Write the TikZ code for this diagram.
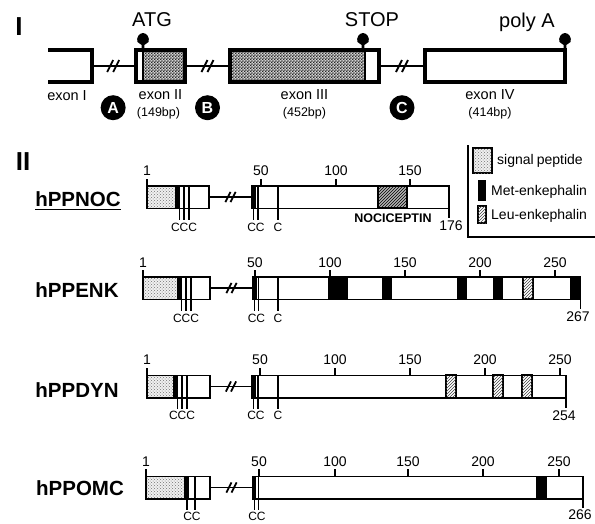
\documentclass[tikz,border=0pt]{standalone}
\usepackage{fontspec}
\setmainfont{Liberation Sans}
\usetikzlibrary{patterns,positioning}
\pgfdeclarepatternformonly{finecheck}{\pgfpointorigin}{\pgfqpoint{2.8pt}{2.8pt}}{\pgfqpoint{2.8pt}{2.8pt}}{%
  \pgfpathrectangle{\pgfpointorigin}{\pgfqpoint{1.45pt}{1.45pt}}%
  \pgfpathrectangle{\pgfqpoint{1.4pt}{1.4pt}}{\pgfqpoint{1.45pt}{1.45pt}}%
  \pgfusepath{fill}}

\begin{document}
\begin{tikzpicture}[x=1pt,y=-1pt,
  every node/.style={inner sep=0pt,font=\fontsize{13}{15}\selectfont},
  exonbox/.style={draw,line width=3.4pt,minimum height=32pt},
  exonline/.style={line width=3.4pt},
  intron/.style={line width=2.2pt},
  ppbox/.style={draw,line width=1.5pt,minimum height=22.5pt},
  ppline/.style={line width=1.5pt},
  cysline/.style={line width=1.1pt},
  checker/.style={fill=gray!35,postaction={pattern=finecheck,pattern color=black!85}},
  sigpep/.style={fill=gray!12,postaction={pattern=crosshatch dots,pattern color=black!55}},
  metenk/.style={fill=black},
  leuenk/.style={fill=white,postaction={pattern=north east lines,pattern color=black!75}},
  nocic/.style={fill=gray!60,postaction={pattern=north east lines,pattern color=black}},
  marker/.style={circle,fill=black,text=white,minimum size=25pt,font=\bfseries\fontsize{16}{16}\selectfont},
  partlbl/.style={font=\bfseries\fontsize{26}{26}\selectfont},
  sitelbl/.style={font=\fontsize{20}{20}\selectfont},
  exonlbl/.style={font=\fontsize{14.5}{16}\selectfont},
  bplbl/.style={font=\fontsize{12.5}{14}\selectfont},
  rowlbl/.style={font=\bfseries\fontsize{20.5}{22}\selectfont},
  numlbl/.style={font=\fontsize{14}{16}\selectfont},
  cyslbl/.style={font=\fontsize{12}{14}\selectfont},
  keylbl/.style={anchor=west,font=\fontsize{14}{16}\selectfont},
  sitepin/.pic={\fill (-1.3,0) -- (-1.3,-5) -- (-5.5,-8) .. controls (-7,-12) and (-4,-17) .. (0,-17)
      .. controls (4,-17) and (7,-12) .. (5.5,-8) -- (1.3,-5) -- (1.3,0) -- cycle;},
  brk/.pic={\draw[line width=1.8pt,pic actions] (-6,6) -- (0,-6) (0,6) -- (6,-6);}
]
\useasboundingbox (0,0) rectangle (595,523);

% part I: gene
\node[partlbl] (pI) at (19,27) {I};
\draw[exonline] (48,50) -- (92,50) -- (92,82) -- (48,82);
\coordinate (ex1) at (92,66);
\fill[checker] (143,50) rectangle (185,82);
\draw[line width=1.4pt] (143,50) -- (143,82);
\node[exonbox,minimum width=49pt] (ex2) at (160.5,66) {};
\fill[checker] (230,50) rectangle (365,82);
\draw[line width=1.4pt] (365,50) -- (365,82);
\node[exonbox,minimum width=149pt] (ex3) at (304.5,66) {};
\node[exonbox,minimum width=140pt] (ex4) at (495,66) {};
\draw[intron] (ex1) -- coordinate[midway] (brkA) (ex2.west);
\draw[intron] (ex2.east) -- coordinate[midway] (brkB) (ex3.west);
\draw[intron] (ex3.east) -- coordinate[midway] (brkC) (ex4.west);
\foreach \b in {brkA,brkB,brkC} \pic at (\b) {brk};
\pic at (143,50) {sitepin};
\pic at (363,50) {sitepin};
\pic at (565,50) {sitepin};
\node[sitelbl] (atg) at (152,20) {ATG};
\node[sitelbl] (stop) at (372,20) {STOP};
\node[sitelbl] (polya) at (527,22) {poly A};
\node[marker,below=29pt of brkA] (intA) {A};
\node[marker,below=29pt of brkB] (intB) {B};
\node[marker,below=29pt of brkC] (intC) {C};
\node[exonlbl] (ex1lbl) at (67,96) {exon I};
\node[exonlbl,below=6pt of ex2] (ex2lbl) {exon II};
\node[bplbl,below=7pt of ex2lbl,xshift=-2pt] (ex2bp) {(149bp)};
\node[exonlbl,below=6pt of ex3] (ex3lbl) {exon III};
\node[bplbl,below=7pt of ex3lbl] (ex3bp) {(452bp)};
\node[exonlbl,below=6pt of ex4,xshift=-5pt] (ex4lbl) {exon IV};
\node[bplbl,below=7pt of ex4lbl] (ex4bp) {(414bp)};

% part II: precursors
\node[partlbl] (pII) at (23,162) {II};
\draw[ppline] (468,145) -- (468,237) -- (595,237);
\filldraw[sigpep,ppline] (473,148) rectangle (492,173);
\node[keylbl] (keysig) at (497,161) {signal\hspace{3pt}peptide};
\fill[metenk] (478,180) rectangle (486,201);
\node[keylbl] (keymet) at (491,192) {Met-enkephalin};
\filldraw[leuenk,ppline] (478,206) rectangle (486,223);
\node[keylbl] (keyleu) at (491,216) {Leu-enkephalin};

% hPPNOC
\node[rowlbl] (noc) at (78,199) {hPPNOC};
\draw[line width=1.4pt] ([yshift=-3pt]noc.south west) -- ([yshift=-3pt]noc.south east);
\fill[sigpep] (147,186) rectangle (175,208);
\fill[metenk] (175,186) rectangle (178.5,208);
\foreach \c in {179.5,184,189} \draw[cysline] (\c,186) -- (\c,220);
\node[ppbox,minimum width=62pt] (noc1) at (178,197) {};
\fill[metenk] (252,186) rectangle (255.5,208);
\foreach \c in {253.5,258,278} \draw[cysline] (\c,186) -- (\c,220);
\filldraw[nocic,ppline] (378,186) rectangle (407,208);
\node[ppbox,minimum width=197pt] (noc2) at (350.5,197) {};
\draw[ppline] (noc1.east) -- coordinate[midway] (nocbrk) (noc2.west);
\pic[line width=1.4pt,scale=.85] at (nocbrk) {brk};
\foreach \n/\x in {1/147,50/261,100/336,150/410} {
  \draw[ppline] (\x,186) -- (\x,179);
  \node[numlbl] at (\x,171) {\n};
}
\draw[ppline] (449,208) -- (449,218);
\node[numlbl] (noclen) at (451,226) {176};
\node[cyslbl] at (184,227) {CCC};
\node[cyslbl] at (256,227) {CC};
\node[cyslbl] at (278,227) {C};
\node[font=\bfseries\fontsize{12.5}{14}\selectfont] (nocpep) at (393,218) {NOCICEPTIN};

% hPPENK
\node[rowlbl] (enk) at (77,290) {hPPENK};
\fill[sigpep] (143,277) rectangle (177,299);
\fill[metenk] (177,277) rectangle (180.5,299);
\foreach \c in {181.5,186,191} \draw[cysline] (\c,277) -- (\c,311);
\node[ppbox,minimum width=67pt] (enk1) at (176.5,288) {};
\fill[metenk] (253,277) rectangle (256.5,299);
\foreach \c in {254.5,258.5,278} \draw[cysline] (\c,277) -- (\c,311);
\foreach \a/\b in {328/348,382/392,457/467,493/503,570/580.5} \fill[metenk] (\a,277) rectangle (\b,299);
\filldraw[leuenk,ppline] (523,277) rectangle (533,299);
\node[ppbox,minimum width=327.5pt] (enk2) at (416.75,288) {};
\draw[ppline] (enk1.east) -- coordinate[midway] (enkbrk) (enk2.west);
\pic[line width=1.4pt,scale=.85] at (enkbrk) {brk};
\foreach \n/\x in {1/143,50/255,100/330,150/405,200/480,250/555} {
  \draw[ppline] (\x,277) -- (\x,270);
  \node[numlbl] at (\x,263) {\n};
}
\draw[ppline] (580.5,299) -- (580.5,309);
\node[numlbl] (enklen) at (578,317) {267};
\node[cyslbl] at (186,318) {CCC};
\node[cyslbl] at (256.5,318) {CC};
\node[cyslbl] at (278,318) {C};

% hPPDYN
\node[rowlbl] (dyn) at (77,390) {hPPDYN};
\fill[sigpep] (147,375) rectangle (173,398);
\fill[metenk] (173,375) rectangle (176.5,398);
\foreach \c in {177.5,182,187} \draw[cysline] (\c,375) -- (\c,409);
\node[ppbox,minimum width=63pt] (dyn1) at (178.5,386.5) {};
\fill[metenk] (252,375) rectangle (255.5,398);
\foreach \c in {253.5,258,278} \draw[cysline] (\c,375) -- (\c,409);
\foreach \a/\b in {446/456,493/503,522/532} \filldraw[leuenk,ppline] (\a,375) rectangle (\b,398);
\node[ppbox,minimum width=314pt] (dyn2) at (409,386.5) {};
\draw[ppline] (dyn1.east) -- coordinate[midway] (dynbrk) (dyn2.west);
\pic[line width=1.4pt,scale=.85] at (dynbrk) {brk};
\foreach \n/\x in {1/147,50/260,100/335,150/410,200/485,250/560} {
  \draw[ppline] (\x,375) -- (\x,368);
  \node[numlbl] at (\x,360) {\n};
}
\draw[ppline] (566,398) -- (566,408);
\node[numlbl] (dynlen) at (564,416) {254};
\node[cyslbl] at (182,415) {CCC};
\node[cyslbl] at (256,415) {CC};
\node[cyslbl] at (278,415) {C};

% hPPOMC
\node[rowlbl] (omc) at (80,488) {hPPOMC};
\fill[sigpep] (146,476) rectangle (184,499);
\fill[metenk] (184,476) rectangle (189,499);
\draw[cysline] (195,476) -- (195,510);
\draw[cysline] (187,499) -- (187,510);
\node[ppbox,minimum width=64pt] (omc1) at (178,487.5) {};
\fill[metenk] (253,476) rectangle (256,499);
\foreach \c in {254.5,258.5} \draw[cysline] (\c,476) -- (\c,510);
\fill[metenk] (536,476) rectangle (547,499);
\node[ppbox,minimum width=330pt] (omc2) at (418,487.5) {};
\draw[ppline] (omc1.east) -- coordinate[midway] (omcbrk) (omc2.west);
\pic[line width=1.4pt,scale=.85] at (omcbrk) {brk};
\foreach \n/\x in {1/146,50/259,100/335,150/408,200/483,250/559} {
  \draw[ppline] (\x,476) -- (\x,469);
  \node[numlbl] at (\x,462) {\n};
}
\draw[ppline] (583,499) -- (583,508);
\node[numlbl] (omclen) at (580,514.5) {266};
\node[cyslbl] at (192,516) {CC};
\node[cyslbl] at (257,516) {CC};
\end{tikzpicture}
\end{document}
